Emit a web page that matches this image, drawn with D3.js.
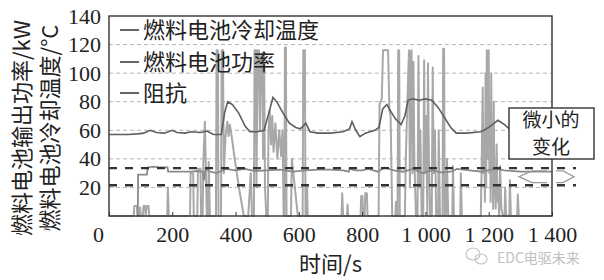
<!DOCTYPE html>
<html>
<head>
<meta charset="utf-8">
<script src="https://cdn.jsdelivr.net/npm/d3@7"></script>
<style>
  body { margin: 0; background: #fff; }
  svg { display: block; }
</style>
</head>
<body>
<script>
// tick values
var xTicks = [0, 200, 400, 600, 800, 1000, 1200, 1400];
var yTicks = [20, 40, 60, 80, 100, 120, 140];
var gridLevels = [20, 40, 60, 80, 100, 120];

// legend
var legendLabels = ['燃料电池冷却温度', '燃料电池功率', '阻抗'];

// reference band (black dashed lines)
var bandLevels = [33.5, 21.5];

// fuel cell coolant temperature [s, °C]
var tempSeries = [
  [0, 57], [60, 57], [90, 57.5], [110, 58], [130, 60], [150, 58.5], [175, 58], [200, 60],
  [215, 58.5], [240, 58], [260, 59], [290, 58.5], [310, 59.5], [330, 57], [355, 57],
  [365, 72], [375, 80], [390, 78], [410, 72], [430, 63], [445, 59], [470, 59], [490, 60],
  [505, 72], [518, 83], [530, 80], [550, 72], [570, 65], [590, 62], [605, 61], [622, 65],
  [635, 59], [660, 58], [700, 58], [740, 59], [760, 61], [768, 66], [780, 60], [793, 55.5],
  [810, 58], [840, 60], [853, 62], [865, 75], [878, 78], [891, 73], [905, 68], [923, 64],
  [935, 70], [945, 81], [960, 82], [980, 81], [1000, 82], [1020, 81], [1040, 76], [1060, 69],
  [1080, 62], [1097, 58], [1130, 58], [1176, 59], [1200, 62], [1229, 67], [1250, 64],
  [1265, 61], [1300, 58], [1400, 57]
];

// fuel cell output power [s, kW]
var powerSeries = [
  [0, 0], [78, 0], [80, 7], [88, 7], [90, 0], [96, 0], [98, 6], [101, 0],
  [107, 0], [109, 7], [114, 7], [116, 0], [119, 7], [125, 7], [127, 0],
  [184, 0], [186, 20], [189, 0],
  [256, 0], [258, 30], [266, 30], [268, 0], [279, 0], [281, 33], [289, 33], [291, 0],
  [296, 0], [298, 36], [303, 66], [306, 34], [309, 0], [313, 0], [315, 38], [319, 0],
  [338, 0], [340, 116], [344, 116], [346, 0], [354, 0], [356, 116], [360, 116], [363, 30],
  [368, 55], [374, 66], [378, 56], [382, 64], [386, 58], [390, 52], [396, 42], [404, 30],
  [412, 18], [420, 8], [426, 0],
  [440, 0], [448, 30], [452, 0], [458, 0], [460, 116], [464, 116], [466, 20], [470, 116],
  [474, 116], [477, 60], [480, 110], [484, 114], [487, 40], [490, 114], [493, 20], [497, 0],
  [502, 0], [504, 60], [508, 74], [512, 50], [516, 70], [520, 45], [526, 65], [532, 40],
  [538, 60], [544, 42], [548, 60], [552, 0], [554, 0], [556, 118], [559, 118], [561, 0],
  [575, 0], [578, 40], [585, 25], [592, 10], [597, 0],
  [612, 0], [614, 116], [619, 116], [621, 0], [624, 0], [626, 20], [628, 0],
  [735, 0], [737, 16], [740, 0], [752, 0], [754, 8], [756, 0],
  [795, 0], [797, 14], [801, 14], [803, 0], [808, 0], [810, 16], [815, 16], [817, 0],
  [852, 0], [855, 78], [862, 82], [866, 116], [882, 116], [886, 74], [890, 70], [895, 0],
  [905, 0], [907, 10], [910, 0], [912, 0], [914, 116], [917, 116], [919, 0],
  [935, 0], [938, 40], [943, 80], [948, 116], [951, 20], [953, 114], [956, 116], [959, 30],
  [962, 108], [965, 40], [970, 0], [975, 0], [978, 112], [981, 20], [984, 60], [988, 0],
  [993, 0], [996, 109], [998, 30], [1002, 70], [1006, 0], [1008, 107], [1011, 40], [1015, 0],
  [1020, 0], [1023, 104], [1026, 30], [1030, 60], [1034, 0], [1040, 0], [1042, 60], [1046, 0],
  [1054, 0], [1056, 117], [1059, 117], [1061, 0], [1065, 0], [1068, 40], [1072, 0],
  [1085, 0], [1087, 35], [1090, 0], [1110, 0], [1112, 30], [1115, 0],
  [1175, 0], [1178, 40], [1181, 90], [1183, 30], [1186, 60], [1188, 10], [1190, 100],
  [1192, 20], [1194, 116], [1197, 40], [1200, 116], [1202, 30], [1204, 70], [1206, 10],
  [1208, 100], [1210, 20], [1212, 50], [1214, 5], [1216, 80], [1218, 15], [1220, 30],
  [1222, 5], [1225, 50], [1228, 10], [1230, 20], [1233, 0], [1236, 35], [1240, 5], [1245, 0],
  [1250, 0], [1252, 20], [1255, 0], [1265, 0], [1267, 25], [1270, 0], [1290, 0], [1292, 15],
  [1295, 0], [1400, 0]
];

// impedance (same axis)
var impSeries = [
  [91, 0], [92, 29], [120, 29], [122, 34], [140, 34.5], [160, 34], [185, 34], [187, 31],
  [260, 31], [280, 31.5], [296, 31], [300, 25], [305, 33], [320, 31], [340, 30], [370, 33],
  [400, 32], [430, 33], [460, 31.5], [500, 32], [540, 32.5], [580, 31], [620, 32], [660, 32.5],
  [700, 32.5], [740, 32], [758, 31], [760, 33], [780, 32], [800, 32], [820, 33], [850, 31],
  [870, 34], [900, 32], [930, 31], [960, 33], [990, 30], [1020, 32], [1050, 30.5], [1080, 31],
  [1100, 33], [1140, 32], [1180, 31], [1220, 33], [1250, 32], [1300, 31], [1400, 31]
];

var margin = {top: 16, right: 52, bottom: 64, left: 109};
var width = 604 - margin.left - margin.right,
    height = 280 - margin.top - margin.bottom;

var serif = '"Liberation Serif", "DejaVu Serif", serif';
var cjk = '"Noto Sans CJK SC", sans-serif';

var svg = d3.select('body').append('svg')
    .attr('width', 604)
    .attr('height', 280);

var g = svg.append('g')
    .attr('transform', 'translate(' + margin.left + ',' + margin.top + ')');

var x = d3.scaleLinear().domain([0, 1400]).range([0, width]);
var y = d3.scaleLinear().domain([0, 140]).range([height, 0]);

//grid
g.selectAll('.grid')
    .data(gridLevels)
    .enter().append('line')
    .attr('x1', 0).attr('x2', width)
    .attr('y1', function(d) {return y(d)})
    .attr('y2', function(d) {return y(d)})
    .attr('stroke', '#b5b5b5')
    .attr('stroke-width', 1)
    .attr('stroke-dasharray', '4,3');

var line = d3.line()
    .x(function(d) {return x(d[0])})
    .y(function(d) {return y(d[1])});

g.append('path').datum(powerSeries)
    .attr('d', line).attr('fill', 'none')
    .attr('stroke', '#a8a8a8').attr('stroke-width', 2).attr('stroke-linejoin', 'round');

g.append('path').datum(impSeries)
    .attr('d', line).attr('fill', 'none')
    .attr('stroke', '#8a8a8a').attr('stroke-width', 1.8);

g.append('path').datum(tempSeries)
    .attr('d', line).attr('fill', 'none')
    .attr('stroke', '#5e5e5e').attr('stroke-width', 1.6);

//black dashed band, runs a bit past the frame
g.selectAll('.band')
    .data(bandLevels)
    .enter().append('line')
    .attr('x1', 0).attr('x2', width + 24)
    .attr('y1', function(d) {return y(d)})
    .attr('y2', function(d) {return y(d)})
    .attr('stroke', '#333')
    .attr('stroke-width', 2.4)
    .attr('stroke-dasharray', '8,8');

//frame
g.append('rect')
    .attr('width', width).attr('height', height)
    .attr('fill', 'none').attr('stroke', '#333').attr('stroke-width', 1.4);

//axes
var xAxis = d3.axisBottom(x)
    .tickValues(xTicks)
    .tickSizeInner(-4).tickSizeOuter(0).tickPadding(10)
    .tickFormat(function(d) {return d >= 1000 ? d3.format(',')(d).replace(',', ' ') : d});

var gx = g.append('g')
    .attr('transform', 'translate(0,' + height + ')')
    .call(xAxis);
gx.select('.domain').remove();
gx.selectAll('line').attr('stroke', '#333');
gx.selectAll('text')
    .style('font-family', serif).style('font-size', '22px').attr('fill', '#222')
    .attr('dx', function(d) {return d == 0 ? -11 : 0});

var yAxis = d3.axisLeft(y)
    .tickValues(yTicks)
    .tickSize(0).tickPadding(8);

var gy = g.append('g').call(yAxis);
gy.select('.domain').remove();
gy.selectAll('text')
    .style('font-family', serif).style('font-size', '22px').attr('fill', '#222');

//legend
var legendY = [30, 62, 93];
var lg = svg.selectAll('.legend')
    .data(legendLabels)
    .enter().append('g')
    .attr('transform', function(d, i) {return 'translate(120,' + legendY[i] + ')'});
lg.append('line')
    .attr('x1', 0).attr('x2', 19).attr('y1', 0).attr('y2', 0)
    .attr('stroke', '#555').attr('stroke-width', 1.8);
lg.append('text')
    .attr('x', 23).attr('dy', '0.36em')
    .style('font-family', cjk).style('font-size', '22px').attr('fill', '#222')
    .text(function(d) {return d});

//axis titles
var yTitles = ['燃料电池输出功率/kW', '燃料电池冷却温度/°C'];
svg.selectAll('.ytitle')
    .data(yTitles)
    .enter().append('text')
    .attr('transform', function(d, i) {return 'translate(' + (22 + i * 28) + ',128) rotate(-90)'})
    .attr('text-anchor', 'middle').attr('dy', '0.36em')
    .style('font-family', cjk).style('font-size', '22px').attr('fill', '#222')
    .text(function(d) {return d});

svg.append('text')
    .attr('x', margin.left + width / 2).attr('y', 272)
    .attr('text-anchor', 'middle')
    .style('font-family', cjk).style('font-size', '22px').attr('fill', '#222')
    .text('时间/s');

//annotation arrows
var arrowColor = '#9a9a9a';
var yMid = margin.top + y(27.5), yHi = margin.top + y(33), yLo = margin.top + y(22);
svg.append('path')
    .attr('d', 'M547,' + (yHi + 2) + 'L532,' + (yHi + 2) + 'L519,' + yMid + 'L532,' + (yLo - 2) + 'L547,' + (yLo - 2))
    .attr('fill', 'none').attr('stroke', arrowColor).attr('stroke-width', 1.3);
svg.append('path')
    .attr('d', 'M556,' + (yHi + 2) + 'L563,' + (yHi + 2) + 'L574,' + yMid + 'L563,' + (yLo - 2) + 'L556,' + (yLo - 2))
    .attr('fill', 'none').attr('stroke', arrowColor).attr('stroke-width', 1.3);

//annotation box
svg.append('rect')
    .attr('x', 509).attr('y', 108).attr('width', 85).attr('height', 51)
    .attr('fill', '#fff').attr('stroke', '#333').attr('stroke-width', 1.4);
svg.append('text')
    .attr('x', 551).attr('y', 120).attr('dy', '0.36em').attr('text-anchor', 'middle')
    .style('font-family', cjk).style('font-size', '19px').attr('fill', '#222')
    .text('微小的');
svg.append('text')
    .attr('x', 551).attr('y', 147).attr('dy', '0.36em').attr('text-anchor', 'middle')
    .style('font-family', cjk).style('font-size', '19px').attr('fill', '#222')
    .text('变化');

//watermark
var wm = svg.append('g').attr('fill', 'none').attr('stroke', '#c4c4c4').attr('stroke-width', 1.2);
wm.append('ellipse').attr('cx', 473).attr('cy', 254).attr('rx', 7).attr('ry', 6);
wm.append('ellipse').attr('cx', 481).attr('cy', 259).attr('rx', 6).attr('ry', 5);
svg.append('text')
    .attr('x', 497).attr('y', 263)
    .style('font-family', '"Noto Sans CJK SC", sans-serif').style('font-size', '14px')
    .attr('fill', '#c0c0c0')
    .text('EDC电驱未来');
</script>
</body>
</html>
